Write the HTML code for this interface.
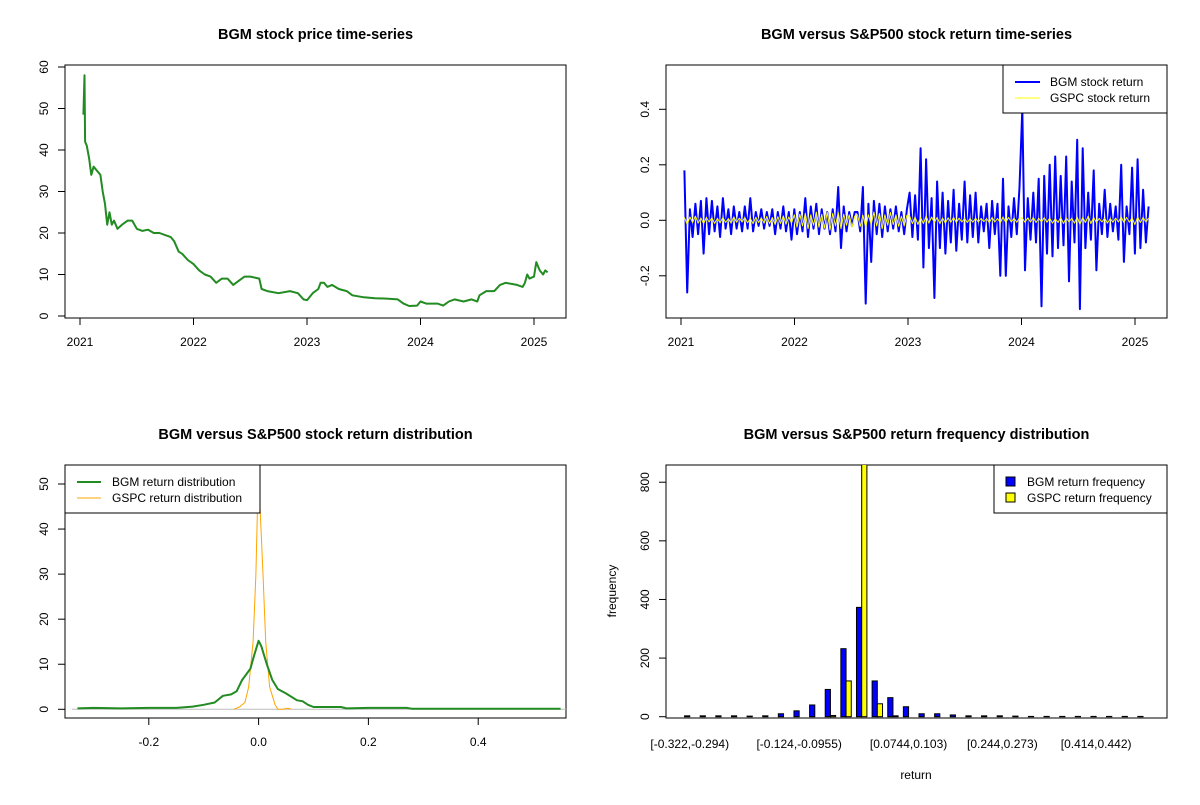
<!DOCTYPE html>
<html><head><meta charset="utf-8"><style>
body{margin:0;background:#fff}
svg text{font-family:"Liberation Sans",sans-serif;fill:#000}
</style></head><body>
<svg id="c" width="1200" height="800" xmlns="http://www.w3.org/2000/svg"></svg>
<script>
// ---------- data ----------
const priceTimes=[2021.03,2021.04,2021.045,2021.06,2021.08,2021.1,2021.12,2021.15,2021.18,2021.2,2021.22,2021.24,2021.26,2021.28,2021.3,2021.33,2021.37,2021.42,2021.46,2021.5,2021.55,2021.6,2021.65,2021.7,2021.75,2021.8,2021.83,2021.87,2021.9,2021.95,2022.0,2022.05,2022.1,2022.15,2022.2,2022.25,2022.3,2022.35,2022.4,2022.45,2022.5,2022.58,2022.6,2022.65,2022.75,2022.85,2022.92,2022.97,2023.0,2023.05,2023.1,2023.12,2023.15,2023.18,2023.22,2023.28,2023.35,2023.4,2023.5,2023.6,2023.7,2023.8,2023.85,2023.9,2023.97,2024.0,2024.05,2024.15,2024.2,2024.25,2024.3,2024.38,2024.45,2024.5,2024.52,2024.58,2024.65,2024.7,2024.75,2024.85,2024.9,2024.92,2024.94,2024.96,2025.0,2025.02,2025.05,2025.08,2025.1,2025.12];
const priceValues=[48.5,58,42,41,38,34,36,35,34,30,27,22,25,22,23,21,22,23,23,21,20.5,20.8,20,20,19.5,19,18,15.5,15,13.5,12.5,11,10,9.5,8,9,9,7.5,8.5,9.5,9.5,9,6.5,6,5.5,6,5.5,4,3.8,5.5,6.5,8,8,7,7.5,6.5,6,5,4.5,4.3,4.2,4,3,2.4,2.5,3.5,3,3,2.5,3.5,4,3.5,4,3.5,5,6,6,7.5,8,7.5,7,8,10,9,9.5,13,11,10,11,10.5];
const priceTicks=[0,10,20,30,40,50,60];
const yearTicks=[2021,2022,2023,2024,2025];

const returnStart=2021.03, returnEnd=2025.12;
const bgmReturns=[0.18,-0.26,0.04,-0.06,0.06,-0.05,0.07,
-0.12,0.08,-0.05,0.07,-0.04,0.05,-0.06,0.08,-0.03,0.04,-0.05,0.05,-0.03,0.03,-0.04,0.05,-0.03,0.08,-0.04,0.03,-0.02,0.04,-0.03,0.03,-0.02,0.04,-0.05,0.03,-0.03,0.05,-0.04,0.03,-0.07,
0.04,-0.05,0.03,-0.04,0.08,-0.06,0.05,-0.03,0.06,-0.05,0.04,-0.03,0.03,-0.05,0.04,-0.04,0.12,-0.1,0.05,-0.04,0.03,-0.02,0.03,
0.03,-0.04,0.12,-0.30,0.06,-0.15,0.07,-0.05,0.06,-0.06,0.05,-0.04,0.04,-0.03,0.05,-0.04,0.03,-0.05,0.04,
0.1,-0.06,0.09,-0.07,0.26,-0.17,0.22,-0.1,0.08,-0.28,0.14,-0.1,0.1,-0.12,0.07,-0.08,0.11,-0.11,0.06,-0.07,0.14,-0.08,0.09,-0.06,0.10,-0.08,0.05,-0.04,0.06,-0.10,0.07,-0.05,0.06,-0.2,0.15,-0.2,0.05,-0.06,0.08,-0.05,0.12,
0.4,-0.18,0.08,-0.07,0.1,-0.08,0.15,-0.31,0.16,-0.12,0.2,-0.13,0.23,-0.1,0.16,-0.09,0.23,-0.22,0.14,-0.08,0.29,-0.32,0.26,-0.1,0.1,-0.07,0.18,-0.18,0.06,-0.05,0.11,-0.06,0.06,-0.04,0.05,-0.07,0.2,-0.15,0.05,-0.05,0.19,-0.12,0.22,-0.1,0.11,-0.08,0.05];
const gspcReturns=[0.01,-0.015,0.012,-0.008,0.015,-0.01,0.008,-0.012,0.01,-0.006,0.009,-0.011,0.007,-0.009,0.01,-0.008,0.006,-0.01,0.012,-0.007,0.008,-0.006,0.01,-0.009,0.007,-0.012,0.011,-0.008,0.009,-0.01,0.014,-0.012,0.01,-0.015,0.013,-0.011,0.016,-0.014,0.012,-0.01,
0.02,-0.025,0.022,-0.02,0.025,-0.03,0.02,-0.018,0.03,-0.025,0.022,-0.028,0.03,-0.035,0.025,-0.02,0.028,-0.03,0.022,-0.018,0.02,-0.025,0.015,
0.02,-0.022,0.018,-0.025,0.02,-0.015,0.03,-0.02,0.025,-0.03,0.02,-0.018,0.028,-0.015,0.02,-0.022,0.015,-0.02,0.018,
0.015,-0.012,0.012,-0.015,0.01,-0.012,0.015,-0.01,0.012,-0.008,0.01,-0.012,0.008,-0.01,0.009,-0.007,0.01,-0.008,0.008,-0.006,0.007,-0.008,0.006,-0.007,0.008,-0.006,0.007,-0.005,0.006,-0.008,0.01,-0.006,0.007,-0.009,0.012,-0.008,0.01,-0.006,0.008,-0.007,0.009,
0.008,-0.007,0.009,-0.006,0.01,-0.008,0.007,-0.006,0.009,-0.007,0.008,-0.01,0.006,-0.008,0.01,-0.012,0.009,-0.006,0.008,-0.01,0.012,-0.015,0.01,-0.008,0.015,-0.012,0.01,-0.008,0.007,-0.006,0.008,-0.01,0.006,-0.007,0.008,-0.006,0.012,-0.008,0.01,-0.007,0.009,-0.015,0.012,-0.008,0.01,-0.006,0.008];
const returnTicks=[-0.2,0,0.2,0.4];

const bgmDensX=[-0.33,-0.3,-0.25,-0.2,-0.15,-0.12,-0.1,-0.08,-0.065,-0.05,-0.04,-0.03,-0.015,-0.008,0,0.005,0.015,0.025,0.035,0.05,0.07,0.08,0.09,0.1,0.15,0.16,0.2,0.27,0.28,0.55];
const bgmDensY=[0.2,0.3,0.2,0.3,0.3,0.6,1,1.5,3,3.3,4,6.5,9,12,15.2,14,10,6.5,4.5,3.5,2,1.8,1,0.5,0.5,0.2,0.3,0.3,0.1,0.1];
const gspcDensX=[-0.045,-0.035,-0.025,-0.018,-0.01,-0.005,-0.002,0,0.003,0.008,0.013,0.02,0.03,0.035,0.045,0.05,0.055,0.06];
const gspcDensY=[0,0.5,1.5,5,15,30,45,48,44,30,15,5,1,0,0,0.2,0.2,0];
const densXTicks=[-0.2,0,0.2,0.4];
const densYTicks=[0,10,20,30,40,50];

const binLabels=["[-0.322,-0.294)","[-0.124,-0.0955)","[0.0744,0.103)","[0.244,0.273)","[0.414,0.442)"];
const binLabelIdx=[0,7,14,20,26];
const bgmFreq=[3,3,3,3,2,3,10,20,40,93,232,373,122,65,34,10,10,6,3,3,3,2,1,1,1,1,1,1,1,1];
const gspcFreq=[0,0,0,0,0,0,0,0,0,4,122,900,44,3,0,0,0,0,0,0,0,0,0,0,0,0,0,0,0,0];
const freqTicks=[0,200,400,600,800];

// ---------- helpers ----------
const S=document.getElementById('c'),NS='http://www.w3.org/2000/svg';
function el(t,a,p){const e=document.createElementNS(NS,t);for(const k in a)e.setAttribute(k,a[k]);(p||S).appendChild(e);return e;}
function txt(s,x,y,o,p){o=o||{};const e=el('text',{x:x,y:y,'font-size':o.fs||12,'text-anchor':o.anchor||'middle','dominant-baseline':'central'},p);if(o.bold)e.setAttribute('font-weight','bold');if(o.rot)e.setAttribute('transform','rotate(-90 '+x+' '+y+')');e.textContent=s;return e;}
function panel(name,x0,y0,x1,y1,title,ty){
  const g=el('g',{});
  
  
  const b=el('rect',{x:x0,y:y0,width:x1-x0,height:y1-y0,fill:'none',stroke:'#000','stroke-width':1},g);
  
  
  const t=txt(title,(x0+x1)/2,ty,{bold:true,fs:14.5},g);
  
  
  const c=el('clipPath',{id:name+'-clip'},g);el('rect',{x:x0,y:y0,width:x1-x0,height:y1-y0},c);
  return g;}
function yAxis(g,ticks,fy,x0,fmt){const a=el('g',{},g);
  
  
  el('line',{x1:x0,x2:x0,y1:fy(ticks[0]),y2:fy(ticks[ticks.length-1]),stroke:'#000'},a);
  ticks.forEach(v=>{const y=fy(v);el('line',{x1:x0-7,x2:x0,y1:y,y2:y,stroke:'#000'},a);txt(fmt(v),x0-21,y,{rot:true},a);});}
function xAxis(g,ticks,fx,y0,fmt){const a=el('g',{},g);
  
  
  el('line',{x1:fx(ticks[0]),x2:fx(ticks[ticks.length-1]),y1:y0,y2:y0,stroke:'#000'},a);
  ticks.forEach(v=>{const x=fx(v);el('line',{x1:x,x2:x,y1:y0,y2:y0+7,stroke:'#000'},a);txt(fmt(v),x,y0+24,{},a);});}
function poly(g,xs,ys,fx,fy,col,w,name,clip){const p=el('polyline',{points:xs.map((x,i)=>fx(x).toFixed(1)+','+fy(ys[i]).toFixed(1)).join(' '),fill:'none',stroke:col,'stroke-width':w,'stroke-linejoin':'round'},g);
  if(clip)p.setAttribute('clip-path','url(#'+clip+')');
  
  return p;}

// ---------- panel 1 ----------
{const g=panel('price-panel',65,65,566,318,'BGM stock price time-series',35);
 const fx=t=>80+(t-2021)*113.5, fy=v=>316-v*4.15;
 yAxis(g,priceTicks,fy,65,v=>String(v));
 xAxis(g,yearTicks,fx,318,v=>String(v));
 poly(g,priceTimes,priceValues,fx,fy,'#228B22',2,'bgm-price-line','price-panel-clip');}

// ---------- panel 2 ----------
{const g=panel('return-panel',666,65,1167,318,'BGM versus S&P500 stock return time-series',35);
 const fx=t=>681+(t-2021)*113.5, fy=r=>220.3-r*277.5;
 const n=bgmReturns.length, ts=bgmReturns.map((_,i)=>returnStart+i*(returnEnd-returnStart)/(n-1));
 yAxis(g,returnTicks,fy,666,v=>v.toFixed(1));
 xAxis(g,yearTicks,fx,318,v=>String(v));
 poly(g,ts,bgmReturns,fx,fy,'#0000FF',2,'bgm-return-line','return-panel-clip');
 poly(g,ts,gspcReturns,fx,fy,'#FFFF00',1,'gspc-return-line','return-panel-clip');
 const L=el('g',{},g);
 
 
 el('rect',{x:1003,y:65,width:164,height:48,fill:'#fff',stroke:'#000'},L);
 el('line',{x1:1015,x2:1040,y1:82,y2:82,stroke:'#0000FF','stroke-width':2},L);
 el('line',{x1:1015,x2:1040,y1:98,y2:98,stroke:'#FFFF00','stroke-width':1},L);
 txt('BGM stock return',1050,82,{anchor:'start'},L);
 txt('GSPC stock return',1050,98,{anchor:'start'},L);}

// ---------- panel 3 ----------
{const g=panel('density-panel',65,465,566,718,'BGM versus S&P500 stock return distribution',435);
 const fx=v=>258.6+v*549, fy=d=>709.3-d*4.506;
 yAxis(g,densYTicks,fy,65,v=>String(v));
 xAxis(g,densXTicks,fx,718,v=>v.toFixed(1));
 const z=el('line',{x1:72,x2:566,y1:fy(0),y2:fy(0),stroke:'#BEBEBE'},g);
 
 
 poly(g,gspcDensX,gspcDensY,fx,fy,'#FFA500',1,'gspc-density-line','density-panel-clip');
 poly(g,bgmDensX,bgmDensY,fx,fy,'#228B22',2,'bgm-density-line','density-panel-clip');
 const L=el('g',{},g);
 
 
 el('rect',{x:65,y:465,width:195,height:48,fill:'#fff',stroke:'#000'},L);
 el('line',{x1:77,x2:101,y1:482,y2:482,stroke:'#228B22','stroke-width':2},L);
 el('line',{x1:77,x2:101,y1:498,y2:498,stroke:'#FFA500','stroke-width':1},L);
 txt('BGM return distribution',112,482,{anchor:'start'},L);
 txt('GSPC return distribution',112,498,{anchor:'start'},L);}

// ---------- panel 4 ----------
{const g=panel('histogram-panel',666,465,1167,718,'BGM versus S&P500 return frequency distribution',435);
 const u=5.21, fx=k=>666+(k-1+3.56)*u, fy=f=>716.7-f*0.2931;
 yAxis(g,freqTicks,fy,666,v=>String(v));
 const bars=el('g',{'clip-path':'url(#histogram-panel-clip)'},g);
 
 
 bgmFreq.forEach((f,i)=>{const x=fx(1+3*i);
   const r=el('rect',{x:x,y:fy(f),width:u,height:fy(0)-fy(f),fill:'#0000FF',stroke:'#000','stroke-width':1},bars);
   
   
   const f2=gspcFreq[i];
   const r2=el('rect',{x:x+u,y:fy(f2),width:u,height:fy(0)-fy(f2),fill:'#FFFF00',stroke:'#000','stroke-width':1},bars);
   
   });
 binLabelIdx.forEach((k,j)=>{const t=txt(binLabels[j],fx(2+3*k),744,{},g);
   
   });
 const xl=txt('return',916,775,{},g);
 
 
 const yl=txt('frequency',612,591,{rot:true},g);
 
 
 const L=el('g',{},g);
 
 
 el('rect',{x:994,y:465,width:173,height:48,fill:'#fff',stroke:'#000'},L);
 el('rect',{x:1006,y:477,width:9,height:9,fill:'#0000FF',stroke:'#000'},L);
 el('rect',{x:1006,y:493,width:9,height:9,fill:'#FFFF00',stroke:'#000'},L);
 txt('BGM return frequency',1027,482,{anchor:'start'},L);
 txt('GSPC return frequency',1027,498,{anchor:'start'},L);}
</script>
</body></html>
